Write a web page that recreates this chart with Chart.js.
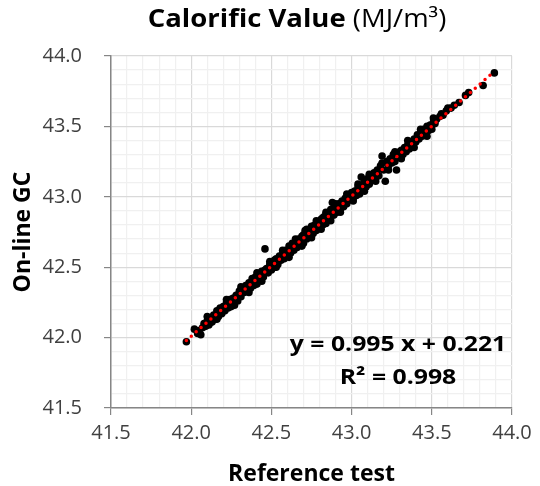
<!DOCTYPE html>
<html>

<head>
  <title>Calorific Value</title>
  <meta charset="UTF-8">
  <script src="https://cdn.jsdelivr.net/npm/chart.js"></script>
  <style type="text/css">
    body {
      margin: 0;
      background: #ffffff;
    }

    #chart-container {
      width: 540px;
      height: 486px;
    }
  </style>
</head>

<body>
  <div id="chart-container">
    <canvas id="graphCanvas"></canvas>
  </div>

  <script>
    // data
    let referenceTest = [
      41.97,
      42.02, 42.04, 42.05, 42.06, 42.07, 42.08, 42.09, 42.10, 42.11, 42.12,
      42.13, 42.14, 42.15, 42.16, 42.17, 42.18, 42.19, 42.20, 42.21, 42.22,
      42.23, 42.24, 42.25, 42.26, 42.27, 42.28, 42.29, 42.30, 42.31, 42.32,
      42.33, 42.34, 42.35, 42.36, 42.37, 42.38, 42.39, 42.40, 42.41, 42.42,
      42.43, 42.44, 42.45, 42.46, 42.47, 42.48, 42.49, 42.50, 42.51, 42.52,
      42.53, 42.54, 42.55, 42.56, 42.57, 42.58, 42.59, 42.60, 42.61, 42.62,
      42.63, 42.64, 42.65, 42.66, 42.67, 42.68, 42.69, 42.70, 42.71, 42.72,
      42.73, 42.74, 42.75, 42.76, 42.77, 42.78, 42.79, 42.80, 42.81, 42.82,
      42.83, 42.84, 42.85, 42.86, 42.87, 42.88, 42.89, 42.90, 42.91, 42.92,
      42.93, 42.94, 42.95, 42.96, 42.97, 42.98, 42.99, 43.00, 43.01, 43.02,
      43.03, 43.04, 43.05, 43.06, 43.07, 43.08, 43.09, 43.10, 43.11, 43.12,
      43.13, 43.14, 43.15, 43.16, 43.17, 43.18, 43.19, 43.20, 43.21, 43.22,
      43.23, 43.24, 43.25, 43.26, 43.27, 43.28, 43.29, 43.30, 43.31, 43.32,
      43.33, 43.34, 43.35, 43.36, 43.37, 43.38, 43.39, 43.40, 43.41, 43.42,
      43.43, 43.44, 43.45, 43.46, 43.47, 43.48, 43.49, 43.50, 43.51, 43.52,
      43.53, 43.55, 43.57, 43.59, 43.62, 43.64, 43.67, 43.71, 43.73, 43.82, 43.89,
      42.58, 42.64, 42.70, 42.76, 42.82, 42.88, 42.94, 43.00, 43.06, 43.12,
      43.18, 43.24, 43.30, 42.52, 42.46, 42.40, 42.34, 42.28, 43.36, 43.44,
      42.10, 42.16, 42.22, 42.27, 42.31, 42.36, 42.41, 42.44, 42.49, 42.53,
      42.57, 42.61, 42.65, 42.69, 42.72, 42.75, 42.78, 42.81, 42.84, 42.87,
      42.90, 42.93, 42.97, 43.01, 43.04, 43.08, 43.11, 43.15, 43.19, 43.23,
      43.27, 43.31, 43.35, 43.39, 43.43, 43.47, 43.51, 43.56, 43.60
    ];
    let onlineGC = [
      41.97,
      42.06, 42.03, 42.05, 42.02, 42.07, 42.10, 42.08, 42.12, 42.09, 42.14,
      42.11, 42.16, 42.13, 42.19, 42.15, 42.21, 42.17, 42.22, 42.19, 42.25,
      42.21, 42.27, 42.22, 42.28, 42.26, 42.30, 42.26, 42.33, 42.29, 42.35,
      42.32, 42.37, 42.33, 42.39, 42.35, 42.42, 42.37, 42.43, 42.38, 42.45,
      42.42, 42.47, 42.43, 42.63, 42.49, 42.46, 42.52, 42.48, 42.54, 42.50,
      42.56, 42.52, 42.58, 42.55, 42.60, 42.56, 42.62, 42.59, 42.65, 42.60,
      42.67, 42.62, 42.68, 42.64, 42.70, 42.66, 42.72, 42.67, 42.76, 42.70,
      42.75, 42.72, 42.79, 42.74, 42.80, 42.76, 42.82, 42.78, 42.84, 42.80,
      42.86, 42.81, 42.88, 42.84, 42.91, 42.96, 42.87, 42.93, 42.89, 42.95,
      42.91, 42.97, 42.93, 42.99, 42.95, 43.00, 42.98, 43.03, 42.99, 43.04,
      43.01, 43.07, 43.02, 43.14, 43.06, 43.11, 43.07, 43.13, 43.09, 43.15,
      43.12, 43.17, 43.13, 43.19, 43.15, 43.22, 43.29, 43.19, 43.11, 43.25,
      43.22, 43.27, 43.24, 43.30, 43.25, 43.19, 43.31, 43.28, 43.33, 43.30,
      43.35, 43.32, 43.37, 43.34, 43.39, 43.37, 43.41, 43.39, 43.44, 43.41,
      43.45, 43.43, 43.48, 43.45, 43.50, 43.47, 43.51, 43.48, 43.53, 43.52,
      43.55, 43.57, 43.58, 43.61, 43.63, 43.65, 43.67, 43.72, 43.74, 43.79, 43.88,
      42.61, 42.66, 42.73, 42.79, 42.85, 42.90, 42.96, 43.01, 43.08, 43.13,
      43.20, 43.24, 43.32, 42.55, 42.48, 42.41, 42.35, 42.29, 43.38, 43.47,
      42.15, 42.13, 42.27, 42.23, 42.36, 42.32, 42.46, 42.40, 42.54, 42.50,
      42.62, 42.57, 42.70, 42.65, 42.77, 42.71, 42.83, 42.77, 42.89, 42.83,
      42.95, 42.89, 43.02, 42.97, 43.09, 43.04, 43.16, 43.11, 43.24, 43.19,
      43.32, 43.27, 43.40, 43.35, 43.48, 43.43, 43.56, 43.59, 43.63
    ];
    let trendX = [41.97, 43.89];
    let trendY = [41.98, 43.89];
    let axisMin = 41.5;
    let axisMax = 44.0;
    let equationText = 'y = 0.995 x + 0.221';
    let rSquaredText = 'R² = 0.998';

    let points = [];
    for (var i in referenceTest) {
      points.push({ x: referenceTest[i], y: onlineGC[i] });
    }
    let trendPoints = [];
    for (var j in trendX) {
      trendPoints.push({ x: trendX[j], y: trendY[j] });
    }

    function isMajor(value) {
      return Math.round(value * 10) % 5 === 0;
    }

    function tickLabel(value) {
      return isMajor(value) ? (Math.round(value * 10) / 10).toFixed(1) : '';
    }

    let fontName = '"Open Sans"';

    // draws text a bit wider, the original font is broader than Open Sans
    function wideText(ctx, text, x, y, stretch) {
      ctx.save();
      ctx.translate(x, y);
      ctx.scale(stretch, 1);
      ctx.fillText(text, 0, 0);
      ctx.restore();
    }

    // title and regression text
    var textPlugin = {
      id: 'chartText',
      afterDraw: function(chart) {
        var ctx = chart.ctx;
        var stretch = 1.1;
        ctx.save();
        ctx.fillStyle = '#000000';
        ctx.textBaseline = 'middle';

        var boldPart = 'Calorific Value';
        var normalPart = ' (MJ/m³)';
        ctx.font = 'bold 25px ' + fontName;
        var w1 = ctx.measureText(boldPart).width * stretch;
        ctx.font = '25px ' + fontName;
        var w2 = ctx.measureText(normalPart).width * stretch;
        var startX = 297 - (w1 + w2) / 2;
        ctx.textAlign = 'left';
        ctx.font = 'bold 25px ' + fontName;
        wideText(ctx, boldPart, startX, 20, stretch);
        ctx.font = '25px ' + fontName;
        wideText(ctx, normalPart, startX + w1, 20, stretch);

        ctx.textAlign = 'center';
        ctx.font = 'bold 21px ' + fontName;
        wideText(ctx, equationText, 398, 345, 1.18);
        wideText(ctx, rSquaredText, 398, 378, 1.18);
        ctx.restore();
      }
    };

    var graphTarget = document.getElementById('graphCanvas');

    var scatterChart = new Chart(graphTarget, {
      type: 'scatter',
      data: {
        datasets: [{
          label: 'Linear fit',
          type: 'line',
          data: trendPoints,
          borderColor: '#ff0000',
          borderWidth: 3.5,
          borderDash: [0, 6.5],
          borderCapStyle: 'round',
          pointRadius: 0,
          fill: false,
          order: 0
        }, {
          label: 'On-line GC',
          data: points,
          backgroundColor: '#000000',
          borderColor: '#000000',
          borderWidth: 0,
          pointRadius: 3.8,
          order: 1
        }]
      },
      options: {
        responsive: true,
        maintainAspectRatio: false,
        animation: false,
        layout: {
          padding: { top: 56, right: 28, bottom: 0, left: 0 }
        },
        plugins: {
          legend: { display: false },
          tooltip: { enabled: false },
          title: { display: false }
        },
        scales: {
          x: {
            type: 'linear',
            min: axisMin,
            max: axisMax,
            afterFit: function(scale) {
              scale.height = 78;
            },
            ticks: {
              stepSize: 0.1,
              autoSkip: false,
              maxRotation: 0,
              padding: 6,
              color: '#404040',
              font: { family: fontName, size: 20 },
              callback: tickLabel
            },
            grid: {
              color: function(ctx) {
                return isMajor(ctx.tick.value) ? '#d9d9d9' : '#f0f0f0';
              },
              tickColor: function(ctx) {
                return isMajor(ctx.tick.value) ? '#868686' : 'rgba(0,0,0,0)';
              },
              tickLength: 7,
              lineWidth: 1.2
            },
            border: { color: '#868686', width: 1.5 },
            title: {
              display: true,
              text: 'Reference test',
              color: '#000000',
              font: { family: fontName, size: 23, weight: 'bold', lineHeight: 1 },
              padding: { top: 0, bottom: 0 }
            }
          },
          y: {
            type: 'linear',
            min: axisMin,
            max: axisMax,
            afterFit: function(scale) {
              scale.width = 111;
            },
            ticks: {
              stepSize: 0.1,
              autoSkip: false,
              padding: 22,
              color: '#404040',
              font: { family: fontName, size: 20 },
              callback: tickLabel
            },
            grid: {
              color: function(ctx) {
                return isMajor(ctx.tick.value) ? '#d9d9d9' : '#f0f0f0';
              },
              tickColor: function(ctx) {
                return isMajor(ctx.tick.value) ? '#868686' : 'rgba(0,0,0,0)';
              },
              tickLength: 7,
              lineWidth: 1.2
            },
            border: { color: '#868686', width: 1.5 },
            title: {
              display: true,
              text: 'On-line GC',
              color: '#000000',
              font: { family: fontName, size: 23, weight: 'bold', lineHeight: 1 },
              padding: { top: 12, bottom: 0 }
            }
          }
        }
      },
      plugins: [textPlugin]
    });
  </script>

</body>

</html>
